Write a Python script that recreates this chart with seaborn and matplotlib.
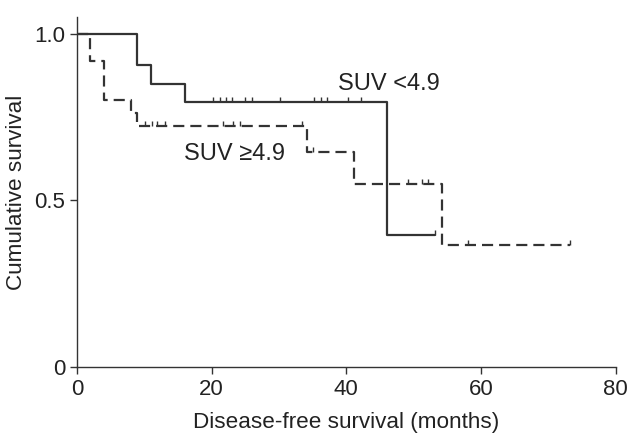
import matplotlib
matplotlib.use("Agg")
import matplotlib.pyplot as plt
from matplotlib.path import Path
import seaborn as sns
import pandas as pd
import numpy as np

sns.set_style("ticks")
plt.rcParams['font.family'] = ['Liberation Sans', 'DejaVu Sans']

# SUV <4.9 (solid): step times and survival after each step
low_times = [0, 9, 11, 16, 46]
low_surv = [1.0, 0.905, 0.85, 0.795, 0.397]
low_end = 53.2
low_censor = [20.2, 21.3, 22.2, 23.1, 25.0, 26.0, 30.2, 35.2, 36.3, 37.2,
              40.3, 42.2, 53.2]

# SUV >=4.9 (dashed)
high_times = [0, 2, 4, 8.1, 9.0, 34.2, 41.2, 54.3]
high_surv = [1.0, 0.919, 0.80, 0.763, 0.722, 0.645, 0.55, 0.366]
high_end = 73.3
high_censor = [10.1, 11.2, 11.9, 13.1, 21.7, 23.2, 24.2, 33.5, 35.1,
               49.2, 51.3, 52.2, 58.1, 73.3]

line_color = "#333333"

def curve_df(times, surv, end, name):
    return pd.DataFrame({"t": list(times) + [end],
                         "s": list(surv) + [surv[-1]],
                         "group": name})

def censor_df(times, surv, cens, name):
    idx = np.searchsorted(times, cens, side="right") - 1
    return pd.DataFrame({"t": cens, "s": np.array(surv)[idx], "group": name})

curves = pd.concat([curve_df(low_times, low_surv, low_end, "low"),
                    curve_df(high_times, high_surv, high_end, "high")])
marks = pd.concat([censor_df(low_times, low_surv, low_censor, "low"),
                   censor_df(high_times, high_surv, high_censor, "high")])

fig, ax = plt.subplots(figsize=(6.3, 4.38), dpi=100)
fig.subplots_adjust(left=0.122, right=0.977, bottom=0.162, top=0.961)

sns.lineplot(data=curves, x="t", y="s", style="group",
             dashes={"low": "", "high": (5, 2.7)}, color=line_color,
             estimator=None, sort=False, drawstyle="steps-post",
             linewidth=1.6, legend=False, ax=ax)

tick_marker = Path([(0, 0), (0, 1)], [Path.MOVETO, Path.LINETO])
sns.scatterplot(data=marks, x="t", y="s", marker=tick_marker, s=60,
                color=line_color, edgecolor=line_color, linewidth=1.0,
                legend=False, ax=ax)

ax.text(38.8, 0.85, "SUV <4.9", fontsize=17, color="#222222", va="center")
ax.text(15.9, 0.64, "SUV \u22654.9", fontsize=17, color="#222222", va="center")

ax.set_xlim(0, 80)
ax.set_ylim(0, 1.05)
ax.set_xticks([0, 20, 40, 60, 80])
ax.set_yticks([0, 0.5, 1.0])
ax.set_yticklabels(["0", "0.5", "1.0"])
ax.set_xlabel("Disease-free survival (months)", fontsize=16.2,
              color="#222222", labelpad=9)
ax.set_ylabel("Cumulative survival", fontsize=16.2, color="#222222",
              labelpad=5)
ax.tick_params(labelsize=16, colors="#333333", labelcolor="#222222",
               length=5, width=1)
for side in ["top", "right"]:
    ax.spines[side].set_visible(False)
for side in ["left", "bottom"]:
    ax.spines[side].set_color("#333333")
    ax.spines[side].set_linewidth(1)

fig.savefig("out.png", dpi=100)
